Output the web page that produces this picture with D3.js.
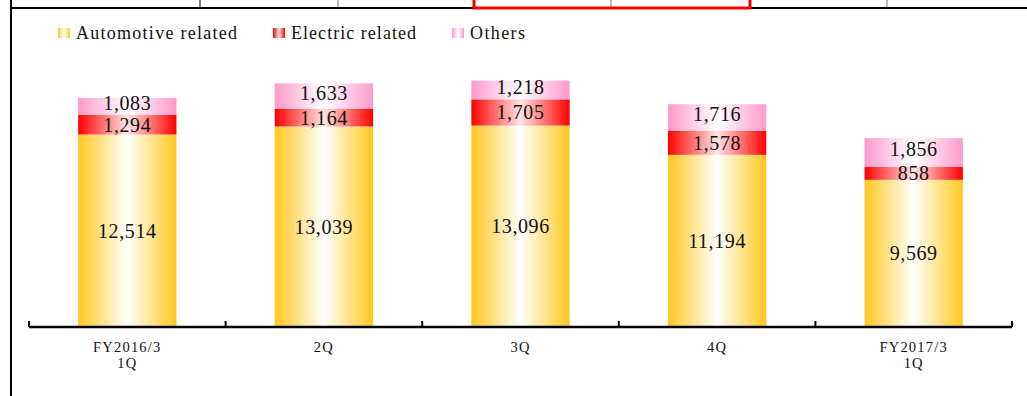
<!DOCTYPE html>
<html>
<head>
<meta charset="utf-8">
<script src="https://cdn.jsdelivr.net/npm/d3@7"></script>
<style>
  html, body { margin: 0; padding: 0; background: #fff; }
  svg { display: block; }
  text { font-family: "Liberation Serif", "Times New Roman", Times, serif; fill: #111; }
</style>
</head>
<body>
<svg id="chart" width="1027" height="396"></svg>
<script>
const categories = ["FY2016/3\n1Q", "2Q", "3Q", "4Q", "FY2017/3\n1Q"];
const seriesNames = ["Automotive related", "Electric related", "Others"];
const automotive = [12514, 13039, 13096, 11194, 9569];
const electric = [1294, 1164, 1705, 1578, 858];
const others = [1083, 1633, 1218, 1716, 1856];

const svg = d3.select("#chart");
const W = 1027, H = 396;

// gradients
const defs = svg.append("defs");
const gradSpecs = [
  { id: "gAuto", edge: "#FFC81E", mid: "#FFFFFF" },
  { id: "gElec", edge: "#FF0000", mid: "#FFE4E4" },
  { id: "gOth", edge: "#FF99CC", mid: "#FFFFFF" }
];
gradSpecs.forEach(g => {
  const lg = defs.append("linearGradient").attr("id", g.id)
    .attr("x1", "0%").attr("x2", "100%").attr("y1", "0%").attr("y2", "0%");
  lg.append("stop").attr("offset", "0%").attr("stop-color", g.edge);
  lg.append("stop").attr("offset", "50%").attr("stop-color", g.mid);
  lg.append("stop").attr("offset", "100%").attr("stop-color", g.edge);
});

// frame remnants (table strip at top, left border)
svg.append("line").attr("x1", 11).attr("x2", 11).attr("y1", 0).attr("y2", H)
  .attr("stroke", "#000").attr("stroke-width", 2);
svg.append("line").attr("x1", 10).attr("x2", W).attr("y1", 8).attr("y2", 8)
  .attr("stroke", "#000").attr("stroke-width", 2);
[[200, "#000"], [338, "#777"], [611, "#777"], [887, "#777"]].forEach(([x, c]) => {
  svg.append("line").attr("x1", x).attr("x2", x).attr("y1", 0).attr("y2", 7)
    .attr("stroke", c).attr("stroke-width", 1);
});
svg.append("rect").attr("x", 474).attr("y", -3).attr("width", 276).attr("height", 11)
  .attr("fill", "none").attr("stroke", "#FF0000").attr("stroke-width", 3);

// scales
const x = d3.scaleBand().domain(categories).range([29, 1012])
  .paddingInner(0.5).paddingOuter(0.25);
const y = d3.scaleLinear().domain([0, 20000]).range([327, 19.4]);

const rows = categories.map((c, i) => ({ cat: c, auto: automotive[i], elec: electric[i], oth: others[i] }));
const stack = d3.stack().keys(["auto", "elec", "oth"])(rows);
const fills = ["url(#gAuto)", "url(#gElec)", "url(#gOth)"];

const g = svg.append("g");
stack.forEach((layer, li) => {
  g.selectAll(null).data(layer).join("rect")
    .attr("x", d => x(d.data.cat))
    .attr("width", x.bandwidth())
    .attr("y", d => y(d[1]))
    .attr("height", d => y(d[0]) - y(d[1]))
    .attr("fill", fills[li]);
});
stack.forEach((layer, li) => {
  g.selectAll(null).data(layer).join("text")
    .attr("x", d => x(d.data.cat) + x.bandwidth() / 2)
    .attr("y", d => (y(d[0]) + y(d[1])) / 2 + (li === 2 ? -3 : 0))
    .attr("dy", "0.35em")
    .attr("text-anchor", "middle")
    .attr("font-size", 20)
    .attr("letter-spacing", 0.6)
    .text(d => d3.format(",")(d[1] - d[0]));
});

// axis
const axis = d3.axisBottom(x).tickSize(0).tickFormat("");
const ax = svg.append("g").attr("transform", "translate(0,327)").call(axis);
ax.select(".domain").attr("stroke", "#000").attr("stroke-width", 2.5).attr("d", "M29,0H1012");
// ticks at band boundaries (pointing up)
const bounds = categories.map(c => x(c) - x.step() * x.paddingInner() / 2);
bounds.push(1012);
bounds[0] = 29;
ax.selectAll(".bnd").data(bounds).join("line").attr("class", "bnd")
  .attr("x1", d => d).attr("x2", d => d).attr("y1", -6).attr("y2", 0)
  .attr("stroke", "#000").attr("stroke-width", 2);

// category labels
const lab = svg.append("g");
categories.forEach(c => {
  const lines = c.split("\n");
  const t = lab.append("text")
    .attr("x", x(c) + x.bandwidth() / 2)
    .attr("y", 352)
    .attr("text-anchor", "middle")
    .attr("font-size", 14.5)
    .attr("letter-spacing", 1.2);
  lines.forEach((ln, i) => {
    t.append("tspan").attr("x", x(c) + x.bandwidth() / 2).attr("dy", i === 0 ? 0 : 16).text(ln);
  });
});

// legend
const legendX = [58, 273, 452];
const legendW = [161, 125, 55];
const leg = svg.append("g");
seriesNames.forEach((n, i) => {
  leg.append("rect").attr("x", legendX[i]).attr("y", 28).attr("width", 12).attr("height", 10)
    .attr("fill", fills[i]);
  leg.append("text").attr("x", legendX[i] + 18).attr("y", 39)
    .attr("font-size", 18)
    .attr("textLength", legendW[i]).attr("lengthAdjust", "spacing")
    .text(n);
});
</script>
</body>
</html>
